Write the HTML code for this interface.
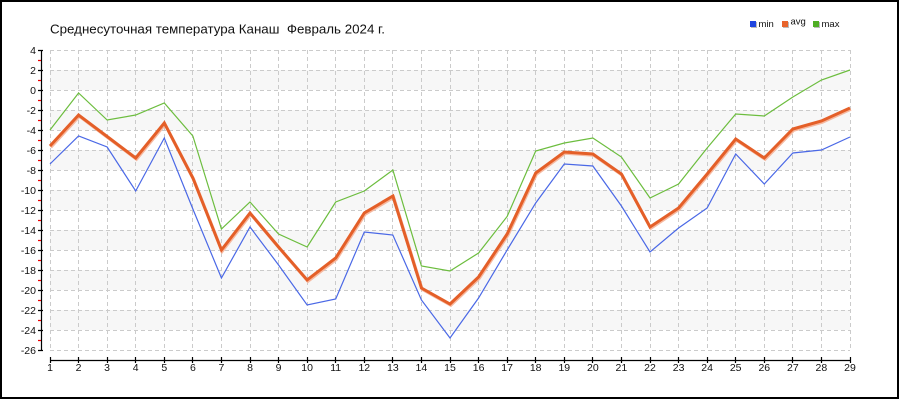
<!DOCTYPE html>
<html><head><meta charset="utf-8"><style>
html,body{margin:0;padding:0;background:#fff;}
svg{display:block;}
text{font-family:"Liberation Sans","DejaVu Sans",sans-serif;}
</style></head><body>
<svg width="900" height="400" viewBox="0 0 900 400" xmlns="http://www.w3.org/2000/svg">
<rect x="0" y="0" width="900" height="400" fill="#fff"/>
<rect x="1" y="1" width="897" height="397" fill="none" stroke="#000" stroke-width="2"/>
<!-- bands -->
<g fill="#f7f7f7">
<rect x="50" y="70" width="800" height="20"/>
<rect x="50" y="110" width="800" height="20"/>
<rect x="50" y="150" width="800" height="20"/>
<rect x="50" y="190" width="800" height="20"/>
<rect x="50" y="230" width="800" height="20"/>
<rect x="50" y="270" width="800" height="20"/>
<rect x="50" y="310" width="800" height="20"/>
</g>
<!-- grid -->
<g stroke="#cbcbcb" stroke-width="1" stroke-dasharray="4,3" fill="none">
<path d="M50 50.5H850M50 70.5H850M50 90.5H850M50 110.5H850M50 130.5H850M50 150.5H850M50 170.5H850M50 190.5H850M50 210.5H850M50 230.5H850M50 250.5H850M50 270.5H850M50 290.5H850M50 310.5H850M50 330.5H850M50 350.5H850"/>
<path d="M50.5 50V350M78.5 50V350M107.5 50V350M135.5 50V350M164.5 50V350M192.5 50V350M221.5 50V350M250.5 50V350M278.5 50V350M307.5 50V350M335.5 50V350M364.5 50V350M392.5 50V350M421.5 50V350M450.5 50V350M478.5 50V350M507.5 50V350M535.5 50V350M564.5 50V350M592.5 50V350M621.5 50V350M650.5 50V350M678.5 50V350M707.5 50V350M735.5 50V350M764.5 50V350M792.5 50V350M821.5 50V350M850.5 50V350"/>
</g>
<!-- y axis -->
<g stroke="#000" stroke-width="1.2" fill="none">
<path d="M41.5 50V350"/>
<path d="M38 50.5H43M38 70.5H43M38 90.5H43M38 110.5H43M38 130.5H43M38 150.5H43M38 170.5H43M38 190.5H43M38 210.5H43M38 230.5H43M38 250.5H43M38 270.5H43M38 290.5H43M38 310.5H43M38 330.5H43M38 350.5H43"/>
</g>
<g stroke="#e00" stroke-width="1.2">
<path d="M38 60.5H41M38 80.5H41M38 100.5H41M38 120.5H41M38 140.5H41M38 160.5H41M38 180.5H41M38 200.5H41M38 220.5H41M38 240.5H41M38 260.5H41M38 280.5H41M38 300.5H41M38 320.5H41M38 340.5H41"/>
</g>
<g font-size="10.5" fill="#111" text-anchor="end">
<text x="36" y="54">4</text><text x="36" y="74">2</text><text x="36" y="94">0</text><text x="36" y="114">-2</text><text x="36" y="134">-4</text><text x="36" y="154">-6</text><text x="36" y="174">-8</text><text x="36" y="194">-10</text><text x="36" y="214">-12</text><text x="36" y="234">-14</text><text x="36" y="254">-16</text><text x="36" y="274">-18</text><text x="36" y="294">-20</text><text x="36" y="314">-22</text><text x="36" y="334">-24</text><text x="36" y="354">-26</text>
</g>
<!-- x axis -->
<g stroke="#000" stroke-width="1.2" fill="none">
<path d="M50 360.5H850"/>
<path d="M50.5 357V363M78.5 357V363M107.5 357V363M135.5 357V363M164.5 357V363M192.5 357V363M221.5 357V363M250.5 357V363M278.5 357V363M307.5 357V363M335.5 357V363M364.5 357V363M392.5 357V363M421.5 357V363M450.5 357V363M478.5 357V363M507.5 357V363M535.5 357V363M564.5 357V363M592.5 357V363M621.5 357V363M650.5 357V363M678.5 357V363M707.5 357V363M735.5 357V363M764.5 357V363M792.5 357V363M821.5 357V363M850.5 357V363"/>
</g>
<g font-size="10.5" fill="#111" text-anchor="middle">
<text x="50" y="371">1</text><text x="78.6" y="371">2</text><text x="107.1" y="371">3</text><text x="135.7" y="371">4</text><text x="164.3" y="371">5</text><text x="192.9" y="371">6</text><text x="221.4" y="371">7</text><text x="250" y="371">8</text><text x="278.6" y="371">9</text><text x="307.1" y="371">10</text><text x="335.7" y="371">11</text><text x="364.3" y="371">12</text><text x="392.9" y="371">13</text><text x="421.4" y="371">14</text><text x="450" y="371">15</text><text x="478.6" y="371">16</text><text x="507.1" y="371">17</text><text x="535.7" y="371">18</text><text x="564.3" y="371">19</text><text x="592.9" y="371">20</text><text x="621.4" y="371">21</text><text x="650" y="371">22</text><text x="678.6" y="371">23</text><text x="707.1" y="371">24</text><text x="735.7" y="371">25</text><text x="764.3" y="371">26</text><text x="792.9" y="371">27</text><text x="821.4" y="371">28</text><text x="850" y="371">29</text>
</g>
<!-- series -->
<polyline fill="none" stroke="#4a68e6" stroke-width="1.2" stroke-linejoin="miter" points="50,164 78.57,136 107.14,147 135.71,191 164.29,138 192.86,209 221.43,278 250,227 278.57,265 307.14,305 335.71,299 364.29,232 392.86,235 421.43,300 450,338 478.57,298 507.14,250 535.71,203 564.29,164 592.86,166 621.43,206 650,252 678.57,228 707.14,208 735.71,154 764.29,184 792.86,153 821.43,150 850,137"/>
<polyline fill="none" stroke="#6cbd3e" stroke-width="1.2" stroke-linejoin="miter" points="50,130 78.57,93 107.14,120 135.71,115 164.29,103 192.86,136 221.43,229 250,202 278.57,234 307.14,247 335.71,202 364.29,191 392.86,170 421.43,266 450,271 478.57,253 507.14,216.5 535.71,151 564.29,143 592.86,138 621.43,157 650,198 678.57,184 707.14,148 735.71,114 764.29,116 792.86,97 821.43,80 850,70"/>
<polyline fill="none" stroke="#f6b9a0" stroke-width="3" transform="translate(0.8,1.3)" points="50,146 78.57,115 107.14,136.5 135.71,158 164.29,123 192.86,178 221.43,250 250,213 278.57,247 307.14,280 335.71,258 364.29,213 392.86,196 421.43,288 450,304 478.57,277 507.14,234 535.71,173 564.29,152 592.86,154 621.43,174 650,227 678.57,208 707.14,174 735.71,139 764.29,158 792.86,129 821.43,121 850,108"/>
<polyline fill="none" stroke="#e45f28" stroke-width="3" points="50,146 78.57,115 107.14,136.5 135.71,158 164.29,123 192.86,178 221.43,250 250,213 278.57,247 307.14,280 335.71,258 364.29,213 392.86,196 421.43,288 450,304 478.57,277 507.14,234 535.71,173 564.29,152 592.86,154 621.43,174 650,227 678.57,208 707.14,174 735.71,139 764.29,158 792.86,129 821.43,121 850,108"/>
<!-- title -->
<text x="50" y="33.5" font-size="13" fill="#111" textLength="335" lengthAdjust="spacingAndGlyphs">Среднесуточная температура Канаш&#160; Февраль 2024 г.</text>
<!-- legend -->
<rect x="751" y="22" width="6" height="6" fill="#bbb"/>
<rect x="750" y="21" width="6" height="6" fill="#1f45e0"/>
<text x="758.5" y="27" font-size="9.5" fill="#111">min</text>
<rect x="783" y="22" width="6" height="6" fill="#bbb"/>
<rect x="782" y="21" width="6" height="6" fill="#e8642c"/>
<text x="790.5" y="24.5" font-size="9.5" fill="#111">avg</text>
<rect x="814" y="22" width="6" height="6" fill="#bbb"/>
<rect x="813" y="21" width="6" height="6" fill="#4fae25"/>
<text x="821.5" y="27" font-size="9.5" fill="#111">max</text>
</svg>
</body></html>
